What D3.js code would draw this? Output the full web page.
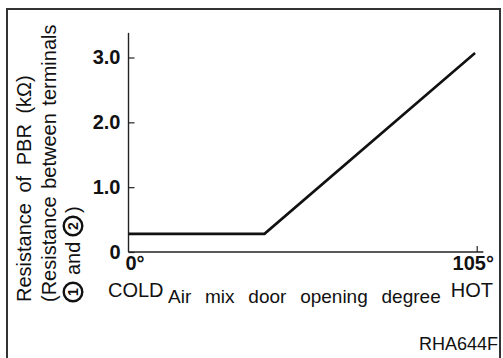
<!DOCTYPE html>
<html><head><meta charset="utf-8">
<script src="https://cdn.jsdelivr.net/npm/d3@7"></script>
<style>
html,body{margin:0;padding:0;background:#fff;}
svg{display:block;font-family:"Liberation Sans",Arial,sans-serif;}
</style></head>
<body>
<script>
// data
const degrees = [0, 41, 104.5];          // air mix door opening degree
const resistance = [0.28, 0.28, 3.07];   // kΩ
const yTickValues = [0, 1, 2, 3];
const yTickLabels = ["0", "1.0", "2.0", "3.0"];
const xTickValues = [0, 105];
const xTickLabels = ["0°", "105°"];
const xEndLabels = ["COLD", "HOT"];
const xTitle = "Air mix door opening degree";
const yTitle1 = "Resistance of PBR (kΩ)";
const yTitle2 = "(Resistance between terminals";
const figId = "RHA644F";

const W = 503, H = 358;
const svg = d3.select("body").append("svg").attr("width", W).attr("height", H);

// frame
svg.append("path").attr("d", `M7,${H+5}V9H500V${H+5}`)
  .attr("fill", "none").attr("stroke", "#333").attr("stroke-width", 2);

const x = d3.scaleLinear().domain([0, 105]).range([128.5, 476.7]);
const y = d3.scaleLinear().domain([0, 3]).range([252, 57.5]);

// axis lines
svg.append("line").attr("x1", x(0)).attr("x2", x(0)).attr("y1", y(0)).attr("y2", y(3.38))
  .attr("stroke", "#222").attr("stroke-width", 1.4);
svg.append("line").attr("x1", x(0)).attr("x2", x(107)).attr("y1", y(0)).attr("y2", y(0))
  .attr("stroke", "#222").attr("stroke-width", 1.4);

// y axis ticks
const yAxis = d3.axisLeft(y).tickValues(yTickValues)
  .tickFormat((d, i) => yTickLabels[i]).tickSizeInner(-6).tickSizeOuter(0).tickPadding(8);
const gy = svg.append("g").attr("transform", `translate(${x(0)},0)`).call(yAxis);
gy.select(".domain").remove();
gy.selectAll(".tick line").attr("stroke", "#222").attr("stroke-width", 1.2);
gy.selectAll(".tick text").attr("font-size", 20).attr("font-weight", "bold")
  .attr("fill", "#111").attr("font-family", "Liberation Sans, Arial, sans-serif");

// x axis ticks
const xAxis = d3.axisBottom(x).tickValues(xTickValues)
  .tickFormat((d, i) => xTickLabels[i]).tickSizeInner(-6).tickSizeOuter(0).tickPadding(4);
const gx = svg.append("g").attr("transform", `translate(0,${y(0)})`).call(xAxis);
gx.select(".domain").remove();
gx.selectAll(".tick line").attr("stroke", "#222").attr("stroke-width", 1.2)
  .attr("opacity", d => d === 0 ? 0 : 1);
gx.selectAll(".tick text").attr("font-size", 20).attr("font-weight", "bold")
  .attr("fill", "#111").attr("font-family", "Liberation Sans, Arial, sans-serif")
  .attr("dx", (d, i) => i === 0 ? 6 : -4);

// end labels
svg.append("text").attr("x", 108).attr("y", 297).attr("font-size", 20).attr("fill", "#111")
  .text(xEndLabels[0]);
svg.append("text").attr("x", 493).attr("y", 297).attr("text-anchor", "end").attr("font-size", 20)
  .attr("fill", "#111").text(xEndLabels[1]);
svg.append("text").attr("x", 168).attr("y", 303).attr("font-size", 19).attr("word-spacing", 8.5)
  .attr("fill", "#111").text(xTitle);
svg.append("text").attr("x", 498).attr("y", 350).attr("text-anchor", "end").attr("font-size", 18)
  .attr("fill", "#111").text(figId);

// data line
const line = d3.line().x(d => x(d[0])).y(d => y(d[1]));
svg.append("path").datum(degrees.map((d, i) => [d, resistance[i]]))
  .attr("d", line).attr("fill", "none").attr("stroke", "#111").attr("stroke-width", 2.6)
  .attr("stroke-linejoin", "miter");

// y title (rotated)
const yt = svg.append("g").attr("transform", "translate(0,302) rotate(-90)");
yt.append("text").attr("x", 0).attr("y", 31).attr("font-size", 20).attr("word-spacing", 5)
  .attr("fill", "#111").text(yTitle1);
yt.append("text").attr("x", 0).attr("y", 56).attr("font-size", 20).attr("word-spacing", 2)
  .attr("fill", "#111").text(yTitle2);
// third line: ① and ②)
const l3 = yt.append("g");
const circ = (cx, label) => {
  l3.append("circle").attr("cx", cx).attr("cy", 73).attr("r", 9.3)
    .attr("fill", "none").attr("stroke", "#111").attr("stroke-width", 2.4);
  l3.append("text").attr("x", cx).attr("y", 73).attr("dy", "0.36em").attr("text-anchor", "middle")
    .attr("font-size", 14).attr("font-weight", "bold").attr("fill", "#111").text(label);
};
circ(10, "1");
l3.append("text").attr("x", 27).attr("y", 80).attr("font-size", 20).attr("fill", "#111").text("and");
circ(76, "2");
l3.append("text").attr("x", 89).attr("y", 80).attr("font-size", 20).attr("fill", "#111").text(")");
</script>
</body></html>
